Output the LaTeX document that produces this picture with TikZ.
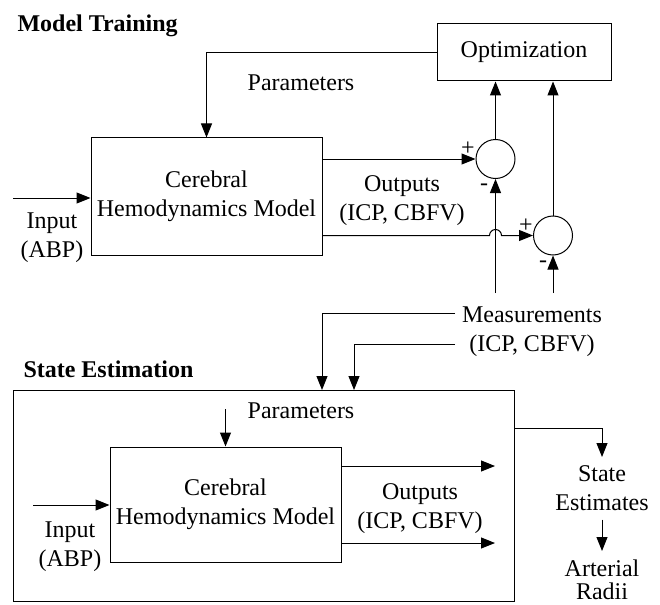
\documentclass[tikz,border=0pt]{standalone}
\usepackage{fontspec}
\setmainfont{Liberation Serif}
\usetikzlibrary{arrows.meta}

\begin{document}
\begin{tikzpicture}[x=1pt, y=-1pt, line width=1pt,
		every node/.style={font=\fontsize{24}{29.5}\selectfont, inner sep=0pt},
		ttl/.style={anchor=base west, font=\fontsize{24}{29.5}\selectfont\bfseries},
		blk/.style={draw, align=center},
		sumj/.style={draw, circle, minimum size=39pt},
		lbl/.style={anchor=north, align=center},
		arr/.style={-{Triangle[length=14pt, width=11pt]}}]
		\useasboundingbox (0,0) rectangle (660,604);
		%\draw[thin, draw=LightSkyBlue, step=10] (0,0) grid (660,604);
		
		% model training
		\node[ttl] (train) at (17,32) {Model Training};
		\node[blk, minimum width=174pt, minimum height=57pt] (opt) at (524,52.5) {Optimization};
		\node[blk, minimum width=231pt, minimum height=117pt] (model1) at (206.5,196.5) {Cerebral\\Hemodynamics Model};
		\node[sumj] (sum1) at (495.5,159) {};
		\node[sumj] (sum2) at (553,235.5) {};
		
		\node[lbl] (par1) at (301,74) {Parameters};
		\node[lbl] (in1) at (52,212) {Input\\(ABP)};
		\node[lbl] (out1) at (402,175) {Outputs\\(ICP, CBFV)};
		\node[lbl] (meas) at (532,306) {Measurements\\(ICP, CBFV)};
		
		\node (plus1) at (468,149) {+};
		\node (minus1) at (484,187) {-};
		\node (plus2) at (526,226) {+};
		\node (minus2) at (543,264) {-};
		
		\coordinate (inA) at (13,198);
		\coordinate (jmp) at (495.5,235.5);
		\coordinate (mA) at (495.5,293);
		\coordinate (mB) at (553,293);
		
		\draw[arr] (inA) -- (inA -| model1.west);
		\draw[arr] (opt.west) -| (model1.north);
		\draw[arr] (model1.east |- sum1) -- (sum1.west);
		\draw[arr] (model1.east |- sum2) -- ([xshift=-6pt]jmp) arc[start angle=180, end angle=360, radius=6] -- (sum2.west);
		\draw[arr] (sum1.north) -- (sum1.north |- opt.south);
		\draw[arr] (sum2.north) -- (sum2.north |- opt.south);
		\draw[arr] (mA) -- (sum1.south);
		\draw[arr] (mB) -- (sum2.south);
		
		% state estimation
		\node[ttl] (esttitle) at (23,377) {State Estimation};
		\node[draw, minimum width=501pt, minimum height=211pt] (sebox) at (263.5,495.5) {};
		\node[blk, minimum width=231pt, minimum height=115pt] (model2) at (225.5,504.5) {Cerebral\\Hemodynamics Model};
		
		\node[lbl] (par2) at (301,402) {Parameters};
		\node[lbl] (in2) at (70,521) {Input\\(ABP)};
		\node[lbl] (out2) at (420,483) {Outputs\\(ICP, CBFV)};
		\node[lbl, inner sep=8pt] (est) at (602,457) {State\\Estimates};
		\node[lbl, inner sep=8pt] (radii) at (602,551) {Arterial\\[-6pt]Radii};
		
		\coordinate (mC) at (455,313);
		\coordinate (mD) at (455,344);
		\coordinate (seA) at (322,390);
		\coordinate (seB) at (354,390);
		\coordinate (parB) at (225.5,409);
		\coordinate (inB) at (33,505);
		\coordinate (oA) at (495,466);
		\coordinate (oB) at (495,543);
		\coordinate (estA) at (602,428);
		
		\draw[arr] (mC) -| (seA);
		\draw[arr] (mD) -| (seB);
		\draw[arr] (parB) -- (model2.north);
		\draw[arr] (inB) -- (inB -| model2.west);
		\draw[arr] (model2.east |- oA) -- (oA);
		\draw[arr] (model2.east |- oB) -- (oB);
		\draw[arr] (sebox.east |- estA) -| (est.north);
		\draw[arr] (est.south) -- (radii.north);
	\end{tikzpicture}
\end{document}
